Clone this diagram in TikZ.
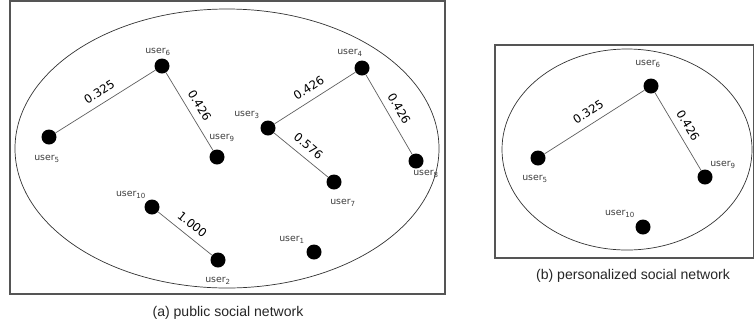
\documentclass[tikz,border=0pt]{standalone}
\usepackage{fontspec}
\setmainfont{Liberation Sans}
\newfontfamily\labelfont{DejaVu Sans}
\definecolor{framegray}{RGB}{85,85,85}
\definecolor{linkgray}{RGB}{95,95,95}
\definecolor{textgray}{RGB}{60,60,60}
\tikzset{
  user/.style={circle, fill=black, inner sep=0pt, minimum size=0.45cm},
  ulabel/.style={font=\labelfont\fontsize{8}{9}\selectfont, text=textgray, inner sep=0pt},
  link/.style={draw=linkgray, line width=0.6pt},
  weight/.style={sloped, above=5pt, inner sep=1pt, font=\labelfont\fontsize{10}{12}\selectfont},
  netframe/.style={draw=framegray, line width=1.2pt},
  netgroup/.style={draw=black!80, line width=0.6pt},
  subcap/.style={font=\fontsize{12}{14}\selectfont, text=black!85}
}
\newcommand*{\usr}[1]{user\textsubscript{#1}}

\begin{document}
\begin{tikzpicture}[x=0.03cm, y=-0.03cm]
	\useasboundingbox (0,0) rectangle (754,326);
	% (a) public network
	\draw[netframe] (10,1) rectangle (445,294);
	\draw[netgroup] (227,148.5) ellipse [x radius=6.36cm, y radius=4.185cm];
	\node[user] (u1)  at (314,252) {};
	\node[user] (u2)  at (218,260) {};
	\node[user] (u3)  at (268,128) {};
	\node[user] (u4)  at (362,68)  {};
	\node[user] (u5)  at (49,137)  {};
	\node[user] (u6)  at (162,66)  {};
	\node[user] (u7)  at (334,182) {};
	\node[user] (u8)  at (416,161) {};
	\node[user] (u9)  at (217,157) {};
	\node[user] (u10) at (152,207) {};
	\node[ulabel] (n1)  at (292,240) {\usr{1}};
	\node[ulabel] (n2)  at (218,281) {\usr{2}};
	\node[ulabel] (n3)  at (247,115) {\usr{3}};
	\node[ulabel] (n4)  at (350,53)  {\usr{4}};
	\node[ulabel] (n5)  at (47,159)  {\usr{5}};
	\node[ulabel] (n6)  at (158,52)  {\usr{6}};
	\node[ulabel] (n7)  at (343,203) {\usr{7}};
	\node[ulabel] (n8)  at (426,174) {\usr{8}};
	\node[ulabel] (n9)  at (222,138) {\usr{9}};
	\node[ulabel] (n10) at (131,195) {\usr{10}};
	\draw[link] (u5) -- node[weight] {0.325} (u6);
	\draw[link] (u6) -- node[weight] {0.426} (u9);
	\draw[link] (u3) -- node[weight] {0.426} (u4);
	\draw[link] (u3) -- node[weight] {0.576} (u7);
	\draw[link] (u4) -- node[weight] {0.426} (u8);
	\draw[link] (u10) -- node[weight] {1.000} (u2);
	\node[subcap] (capa) at (228,313) {(a) public social network};
	% (b) personalized network
	\draw[netframe] (495,45) rectangle (753.4,258);
	\draw[netgroup] (627,149.5) ellipse [x radius=3.75cm, y radius=3.015cm];
	\node[user] (p5)  at (538,158) {};
	\node[user] (p6)  at (651,86)  {};
	\node[user] (p9)  at (705,177) {};
	\node[user] (p10) at (643,227) {};
	\node[ulabel] (m5)  at (535,179) {\usr{5}};
	\node[ulabel] (m6)  at (648,64)  {\usr{6}};
	\node[ulabel] (m9)  at (723,165) {\usr{9}};
	\node[ulabel] (m10) at (620,214) {\usr{10}};
	\draw[link] (p5) -- node[weight] {0.325} (p6);
	\draw[link] (p6) -- node[weight] {0.426} (p9);
	\node[subcap] (capb) at (633,276) {(b) personalized social network};
\end{tikzpicture}
\end{document}
